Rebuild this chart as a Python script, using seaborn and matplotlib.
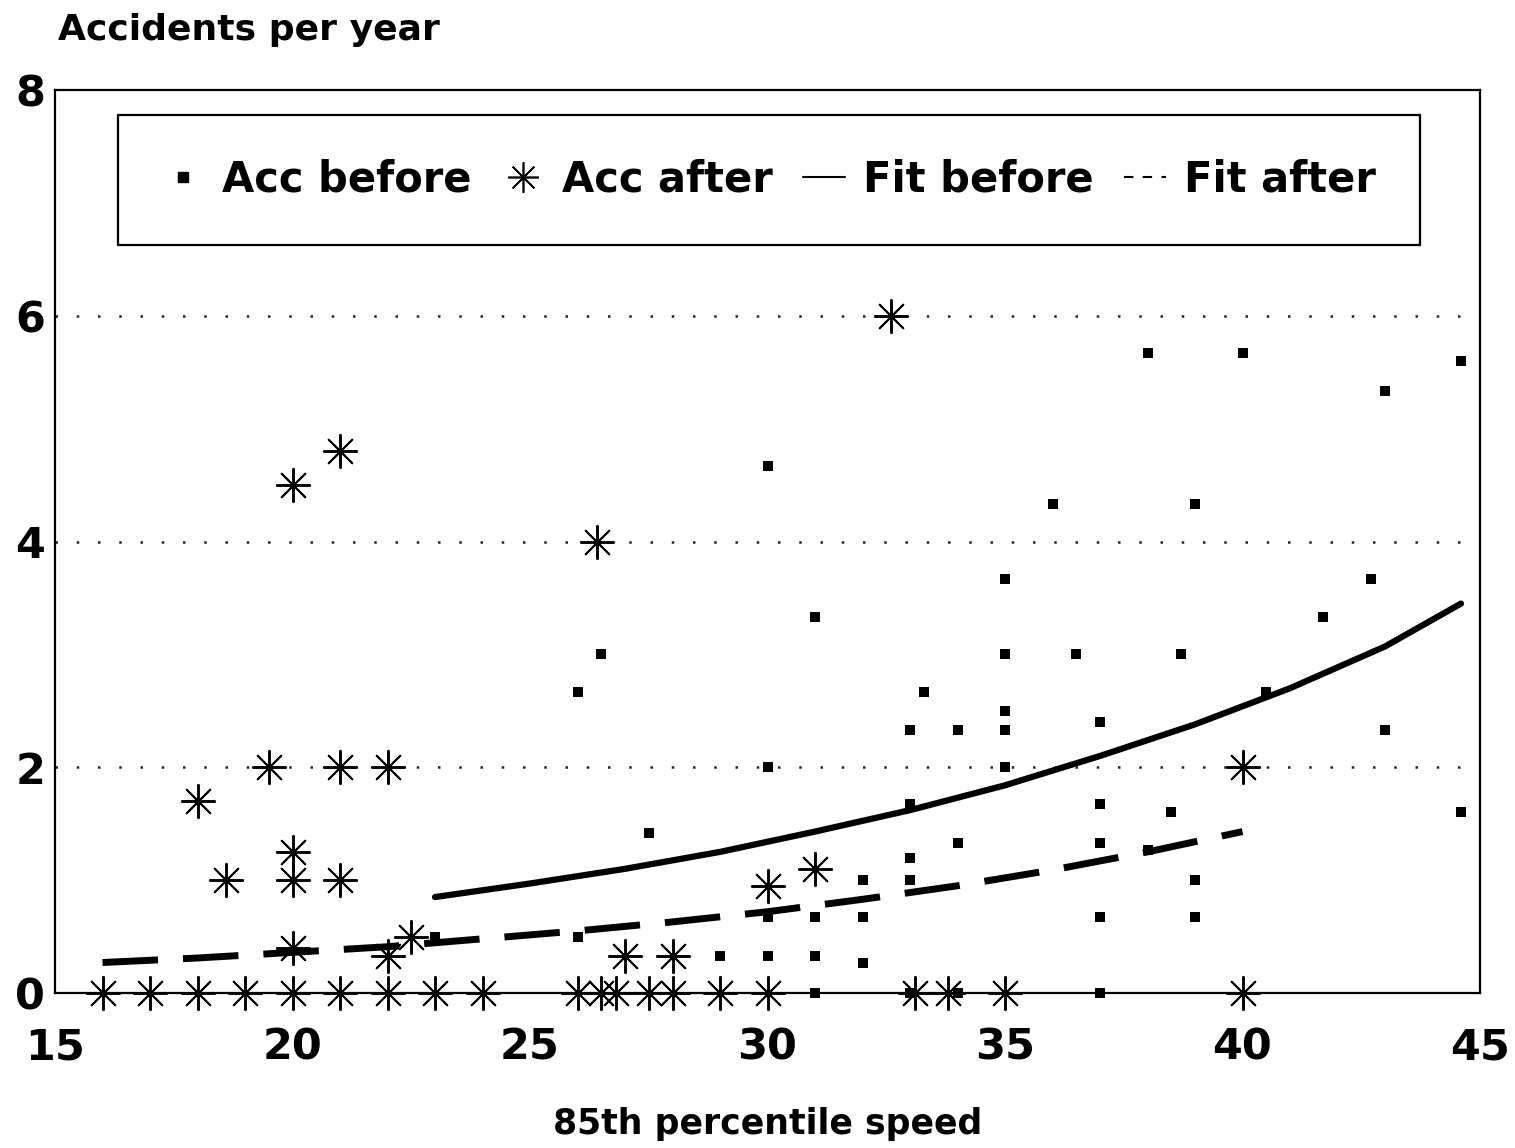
import matplotlib
matplotlib.use("Agg")
import matplotlib.pyplot as plt
from matplotlib.lines import Line2D
import seaborn as sns
import pandas as pd

# Accidents per year before the scheme, by 85th percentile speed
before_speed = [23, 26, 26, 26.5, 27.5, 29, 30, 30, 30, 30,
                31, 31, 31, 31, 32, 32, 32, 33, 33, 33,
                33, 33, 33.3, 34, 34, 34, 35, 35, 35, 35,
                35, 36, 36.5, 37, 37, 37, 37, 37, 38, 38,
                38.5, 38.7, 39, 39, 39, 40, 40.5, 41.7, 42.7, 43,
                43, 44.6, 44.6]
before_acc = [0.5, 0.5, 2.67, 3.0, 1.42, 0.33, 0.33, 0.67, 2.0, 4.67,
              0.0, 0.33, 0.67, 3.33, 0.27, 0.67, 1.0, 0.0, 1.0, 1.2,
              1.67, 2.33, 2.67, 0.0, 1.33, 2.33, 2.0, 2.33, 2.5, 3.0,
              3.67, 4.33, 3.0, 0.0, 0.67, 1.33, 1.67, 2.4, 1.27, 5.67,
              1.6, 3.0, 0.67, 1.0, 4.33, 5.67, 2.67, 3.33, 3.67, 2.33,
              5.33, 1.6, 5.6]

# Accidents per year after the scheme
after_speed = [16, 17, 18, 19, 20, 21, 22, 23, 24,
               26, 26.5, 26.8, 27.5, 28, 29, 30, 33.1, 33.8, 35, 40,
               18, 18.6, 19.5, 20, 20, 20, 20, 21, 21, 21,
               22, 22, 22.5, 26.4, 27, 28, 30, 31, 32.6, 40]
after_acc = [0, 0, 0, 0, 0, 0, 0, 0, 0,
             0, 0, 0, 0, 0, 0, 0, 0, 0, 0, 0,
             1.7, 1.0, 2.0, 4.5, 1.25, 1.0, 0.4, 4.8, 2.0, 1.0,
             2.0, 0.33, 0.5, 4.0, 0.33, 0.33, 0.95, 1.1, 6.0, 2.0]

# Fitted curves
fit_before_x = [23, 25, 27, 29, 31, 33, 35, 37, 39, 41, 43, 44.6]
fit_before_y = [0.85, 0.97, 1.10, 1.25, 1.43, 1.62, 1.84, 2.10, 2.38, 2.70, 3.07, 3.45]
fit_after_x = [16, 18, 20, 22, 24, 26, 28, 30, 32, 34, 36, 38, 40]
fit_after_y = [0.27, 0.31, 0.36, 0.41, 0.48, 0.55, 0.63, 0.72, 0.83, 0.95, 1.09, 1.25, 1.43]

x_ticks = [15, 20, 25, 30, 35, 40, 45]
y_ticks = [0, 2, 4, 6, 8]

sns.set_style("white")
plt.rcParams["font.family"] = ["DejaVu Sans"]
plt.rcParams["font.weight"] = "bold"
plt.rcParams["text.color"] = "black"
plt.rcParams["xtick.color"] = "black"
plt.rcParams["ytick.color"] = "black"
plt.rcParams["axes.labelcolor"] = "black"

W, H = 1515, 1148
fig = plt.figure(figsize=(W / 100, H / 100), dpi=100)
ax = fig.add_axes([55 / W, 1 - 993 / H, (1480 - 55) / W, (993 - 90) / H])

before_df = pd.DataFrame({"speed": before_speed, "acc": before_acc})
after_df = pd.DataFrame({"speed": after_speed, "acc": after_acc})
fb_df = pd.DataFrame({"speed": fit_before_x, "acc": fit_before_y})
fa_df = pd.DataFrame({"speed": fit_after_x, "acc": fit_after_y})

# dotted reference lines
for yv in [2, 4, 6]:
    ax.axhline(yv, color="#222222", lw=1.8, linestyle=(0, (1, 7.5)), zorder=1)

sns.lineplot(data=fb_df, x="speed", y="acc", ax=ax, color="black", lw=4.5,
             estimator=None, sort=True, zorder=3)
sns.lineplot(data=fa_df, x="speed", y="acc", ax=ax, color="black", lw=5,
             linestyle=(0, (8, 3.6)), dash_capstyle="butt",
             estimator=None, sort=True, zorder=3)

sns.scatterplot(data=before_df, x="speed", y="acc", ax=ax, marker="s",
                s=55, color="black", linewidth=0, zorder=4, clip_on=False)
sns.scatterplot(data=after_df, x="speed", y="acc", ax=ax, marker=(8, 2, 0),
                s=24 ** 2, color="black", linewidth=1.4, zorder=5, clip_on=False)

ax.set_xlim(15, 45)
ax.set_ylim(0, 8)
ax.set_xticks(x_ticks)
ax.set_yticks(y_ticks)
ax.tick_params(axis="both", length=0, labelsize=31, colors="black")
ax.tick_params(axis="x", pad=24)
ax.tick_params(axis="y", pad=7)
for lab in ax.get_xticklabels() + ax.get_yticklabels():
    lab.set_fontweight("bold")
for sp in ax.spines.values():
    sp.set_visible(True)
    sp.set_color("black")
    sp.set_linewidth(1.6)

ax.set_xlabel("85th percentile speed", fontsize=25, fontweight="bold", labelpad=28)
ax.set_ylabel("")
fig.text(58 / W, 1 - 30 / H, "Accidents per year", fontsize=26, fontweight="bold",
         ha="left", va="center")

handles = [
    Line2D([], [], marker="s", ms=6.5, color="black", lw=0),
    Line2D([], [], marker=(8, 2, 0), ms=22, color="black", lw=0, mew=1.2),
    Line2D([], [], color="black", lw=1.5),
    Line2D([], [], color="black", lw=1.5, linestyle=(0, (4.5, 4.5))),
]
labels = ["Acc before", "Acc after", "Fit before", "Fit after"]
leg = ax.legend(handles, labels, ncol=4, loc="center",
                bbox_to_anchor=((118 - 55) / 1425, (993 - 245) / 903,
                                (1420 - 118) / 1425, 130 / 903),
                mode="expand", fontsize=30, frameon=True, fancybox=False,
                handlelength=1.0, handletextpad=0.45, columnspacing=0.7,
                borderpad=1.05, borderaxespad=0)
frame = leg.get_frame()
frame.set_edgecolor("black")
frame.set_linewidth(1.6)
frame.set_facecolor("white")
frame.set_alpha(1)
for t in leg.get_texts():
    t.set_fontweight("bold")
    t.set_color("black")

fig.savefig("out.png", dpi=100, facecolor="white")
